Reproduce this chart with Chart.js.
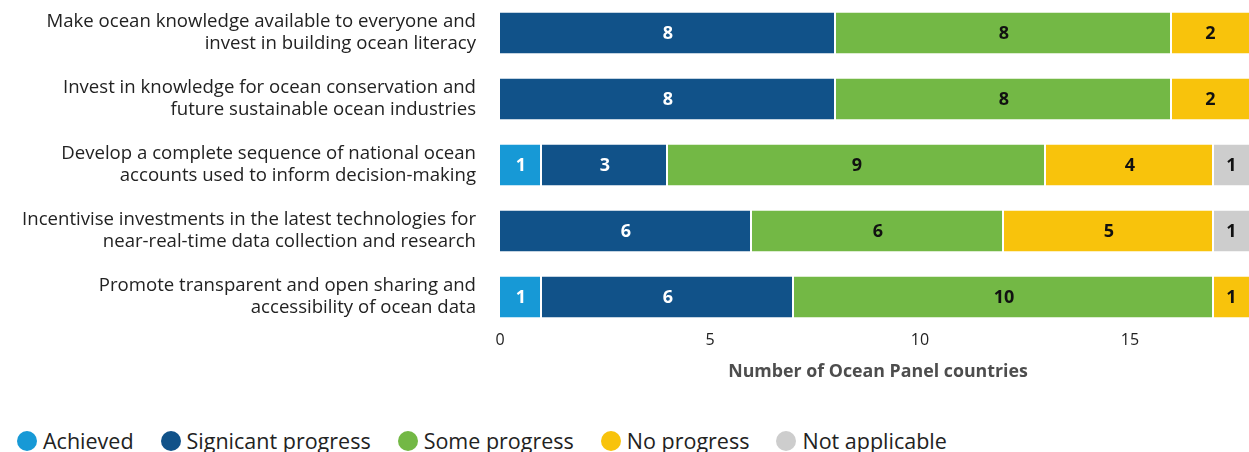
<!DOCTYPE html>
<html lang="en">
<head>
    <meta charset="UTF-8">
    <title>Ocean Panel progress</title>
    <script src="https://cdn.jsdelivr.net/npm/chart.js"></script>
    <style>
        html, body {
            margin: 0;
            padding: 0;
            overflow: hidden;
            background: #fff;
            font-family: "Open Sans", sans-serif;
        }
        #wrap {
            position: relative;
            width: 1256px;
            height: 395px;
        }
        #legend {
            position: absolute;
            left: 17px;
            top: 426px;
            display: flex;
            align-items: center;
            white-space: nowrap;
            font-size: 21.5px;
            color: #222;
        }
        #legend .item {
            display: flex;
            align-items: center;
            margin-right: 27px;
        }
        #legend .dot {
            width: 20px;
            height: 20px;
            border-radius: 50%;
            margin-right: 6px;
        }
    </style>
</head>
<body>
    <div id="wrap">
        <canvas id="progressChart"></canvas>
    </div>
    <div id="legend"></div>

    <script>
        // Actions, one per bar (split over two lines)
        const actions = [
            ['Make ocean knowledge available to everyone and', 'invest in building ocean literacy'],
            ['Invest in knowledge for ocean conservation and', 'future sustainable ocean industries'],
            ['Develop a complete sequence of national ocean', 'accounts used to inform decision-making'],
            ['Incentivise investments in the latest technologies for', 'near-real-time data collection and research'],
            ['Promote transparent and open sharing and', 'accessibility of ocean data']
        ];

        // Number of countries per status, in the order of the actions above
        const achieved = [0, 0, 1, 0, 1];
        const significantProgress = [8, 8, 3, 6, 6];
        const someProgress = [8, 8, 9, 6, 10];
        const noProgress = [2, 2, 4, 5, 1];
        const notApplicable = [0, 0, 1, 1, 0];

        const xTicks = [0, 5, 10, 15];

        const series = [
            { label: 'Achieved', data: achieved, color: '#1799d6', text: '#fff' },
            { label: 'Signicant progress', data: significantProgress, color: '#115289', text: '#fff' },
            { label: 'Some progress', data: someProgress, color: '#73b845', text: '#111' },
            { label: 'No progress', data: noProgress, color: '#f8c30c', text: '#111' },
            { label: 'Not applicable', data: notApplicable, color: '#cdcdcd', text: '#111' }
        ];

        // writes the count in the middle of every segment
        const segmentLabels = {
            id: 'segmentLabels',
            afterDatasetsDraw(chart) {
                const ctx = chart.ctx;
                ctx.save();
                ctx.font = 'bold 18px "Open Sans", sans-serif';
                ctx.textAlign = 'center';
                ctx.textBaseline = 'middle';
                chart.data.datasets.forEach((ds, i) => {
                    const meta = chart.getDatasetMeta(i);
                    meta.data.forEach((bar, j) => {
                        const v = ds.data[j];
                        if (!v) return;
                        const left = Math.min(bar.x, bar.base);
                        const right = Math.min(Math.max(bar.x, bar.base), 1249);
                        ctx.fillStyle = ds.textColor;
                        ctx.fillText(String(v), (left + right) / 2, bar.y + 1);
                    });
                });
                ctx.restore();
            }
        };

        const ctx = document.getElementById('progressChart').getContext('2d');

        const chart = new Chart(ctx, {
            type: 'bar',
            data: {
                labels: actions,
                datasets: series.map(s => ({
                    label: s.label,
                    data: s.data,
                    backgroundColor: s.color,
                    borderColor: '#fff',
                    borderWidth: { right: 2 },
                    borderSkipped: false,
                    textColor: s.text,
                    barPercentage: 0.62,
                    categoryPercentage: 1
                }))
            },
            options: {
                indexAxis: 'y',
                responsive: true,
                maintainAspectRatio: false,
                animation: false,
                layout: {
                    padding: 0
                },
                scales: {
                    x: {
                        stacked: true,
                        min: 0,
                        max: 18,
                        grid: { display: false, drawTicks: false },
                        border: { display: false },
                        afterBuildTicks(scale) {
                            scale.ticks = xTicks.map(v => ({ value: v }));
                        },
                        afterFit(scale) {
                            scale.height = 65;
                        },
                        ticks: {
                            color: '#222',
                            padding: 1,
                            font: { family: '"Open Sans", sans-serif', size: 16 }
                        },
                        title: {
                            display: true,
                            text: 'Number of Ocean Panel countries',
                            color: '#4d4d4d',
                            padding: { top: 0, bottom: 12 },
                            font: { family: '"Open Sans", sans-serif', size: 17.8, weight: 'bold' }
                        }
                    },
                    y: {
                        stacked: true,
                        grid: { display: false, drawTicks: false },
                        border: { display: false },
                        afterFit(scale) {
                            scale.width = 500;
                            scale.paddingTop = 0;
                            scale.paddingBottom = 0;
                        },
                        ticks: {
                            color: '#222',
                            padding: 24,
                            font: { family: '"Open Sans", sans-serif', size: 18.6, lineHeight: 1.18 }
                        }
                    }
                },
                plugins: {
                    legend: { display: false },
                    tooltip: { enabled: false }
                }
            },
            plugins: [segmentLabels]
        });

        // legend below the chart, built from the same series
        const legend = document.getElementById('legend');
        chart.data.datasets.forEach(ds => {
            const item = document.createElement('div');
            item.className = 'item';
            const dot = document.createElement('span');
            dot.className = 'dot';
            dot.style.background = ds.backgroundColor;
            const label = document.createElement('span');
            label.textContent = ds.label;
            item.appendChild(dot);
            item.appendChild(label);
            legend.appendChild(item);
        });
    </script>
</body>
</html>
